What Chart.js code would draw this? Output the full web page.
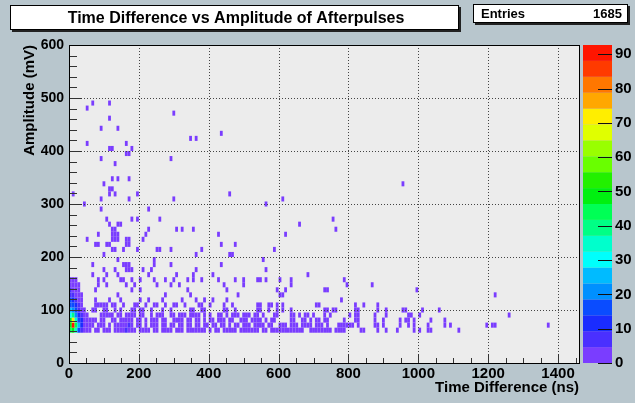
<!DOCTYPE html>
<html>
<head>
<meta charset="utf-8">
<script src="https://cdn.jsdelivr.net/npm/chart.js@4.4.0/dist/chart.umd.min.js"></script>
<style>
  html, body { margin: 0; padding: 0; background: #b8c6cd; }
  #wrap { position: relative; width: 635px; height: 403px; }
</style>
</head>
<body>
<div id="wrap"><canvas id="afterpulses" width="635" height="403"></canvas></div>
<script>
// axis setup
const xTicks = [0, 200, 400, 600, 800, 1000, 1200, 1400];
const yTicks = [0, 100, 200, 300, 400, 500, 600];
const zTicks = [0, 10, 20, 30, 40, 50, 60, 70, 80, 90];
const xMax = 1460, yMax = 600, zMax = 92.7;
const binT = 8;          // ns per bin
const binA = 600 / 63;   // mV per bin
const entries = 1685;

// busy cells near t = 0 (counts), one array per amplitude row
const hotT = [4, 12, 20, 28, 36];
const hotAmps = [62, 71, 81, 90, 100, 110, 119, 129, 138, 148, 157];
const hot62 = [42, 50, 34, 18, 9];
const hot71 = [50, 90, 46, 26, 12];
const hot81 = [48, 70, 36, 16, 10];
const hot90 = [28, 38, 22, 12, 5];
const hot100 = [26, 20, 14, 8, 3];
const hot110 = [18, 16, 10, 5, 2];
const hot119 = [14, 12, 7, 3, 1];
const hot129 = [8, 7, 4, 2, 1];
const hot138 = [5, 4, 3, 1];
const hot148 = [3, 3, 2, 1];
const hot157 = [2, 1, 1];

// a couple of bluish cells in the band
const warmT = [164, 172];
const warmA = [62, 71];
const warmN = [7, 9];

// single hits: time (ns) of each filled cell, per amplitude row (mV)
const t62 = [44,52,60,76,84,100,108,116,132,140,148,156,172,180,188,204,212,220,228,244,252,268,276,284,292,308,316,324,340,348,356,364,372,380,388,404,420,428,444,452,460,468,476,492,500,508,516,524,532,540,556,564,580,588,596,604,612,620,628,636,644,652,660,668,692,700,708,716,724,732,740,748,764,772,780,788,836,844,884,908,940,988,1004,1028,1036,1116];
const t71 = [44,52,60,68,84,92,100,116,132,140,148,156,164,180,196,204,220,236,244,252,268,276,292,300,316,324,340,348,364,372,388,396,412,420,436,444,460,476,484,500,508,516,532,540,548,556,572,580,604,612,620,636,644,652,668,676,684,692,708,716,724,740,772,780,788,796,804,812,828,876,884,900,948,972,988,1028,1076,1092,1196,1212,1220,1372];
const t81 = [44,52,60,68,76,92,100,124,132,148,156,164,172,180,196,204,220,236,244,252,268,276,300,308,316,324,340,348,364,372,388,404,412,428,436,444,460,468,492,500,508,524,532,540,548,564,580,588,636,644,668,676,692,708,716,732,740,788,820,828,876,900,948,964,972,988,1036,1076];
const t90 = [44,52,92,100,108,116,124,140,148,164,172,180,188,204,212,236,252,260,268,292,300,316,324,332,348,356,364,372,388,404,428,436,452,468,476,484,500,508,516,532,540,556,588,596,636,644,660,676,684,700,732,748,804,820,828,876,908,972,980,1004,1260];
const t100 = [44,68,76,100,108,132,148,180,188,204,212,236,268,292,348,356,380,388,444,452,476,540,548,572,596,612,636,732,740,756,764,820,828,884,908,956,964,1012,1060];
const t110 = [76,84,92,100,108,124,132,156,188,196,220,244,252,276,300,308,332,372,380,404,444,468,540,548,572,580,596,612,708,716,820,844,884];
const t119 = [76,116,148,204,228,268,324,364,388,412,452,780];
const t129 = [140,276,348,484,604,612,1220];
const t138 = [76,180,204,340,452,596,620,732,740,996];
const t148 = [84,108,164,188,252,292,316,444,500,636,796,868];
const t157 = [84,100,148,156,180,204,244,276,300,340,356,380,428,476,500,540,548,564,604,636,788];
const t167 = [68,108,140,228,308,356,412,684];
const t176 = [100,132,164,172,180,212,236,364,564];
const t186 = [68,156,164,172,244,292,436];
const t195 = [140,244,556];
const t205 = [100,364,460,468];
const t214 = [124,132,156,196,252,260,292,380,588];
const t224 = [76,84,108,116,164,172,436,476];
const t233 = [52,124,132,140,164,172,212];
const t243 = [84,124,132,140,220,428,620];
const t252 = [124,132,228,308,324,356,764];
const t262 = [116,140,148,660];
const t271 = [108,180,196,260,756];
const t290 = [92,228];
const t300 = [44,564];
const t310 = [92,172,300,612];
const t319 = [12,116,132,196,460];
const t329 = [116,124];
const t338 = [100,956];
const t348 = [124,140,172];
const t376 = [132];
const t386 = [92,292];
const t395 = [164,172];
const t405 = [116,124,180];
const t414 = [52,164];
const t424 = [348,364];
const t433 = [436];
const t443 = [92,140];
const t462 = [116];
const t471 = [300];
const t481 = [52];
const t490 = [68,116];

const rowAmps = [62,71,81,90,100,110,119,129,138,148,157,167,176,186,195,205,214,224,233,243,252,262,271,290,300,310,319,329,338,348,376,386,395,405,414,424,433,443,462,471,481,490];
const rowTimes = [t62,t71,t81,t90,t100,t110,t119,t129,t138,t148,t157,t167,t176,t186,t195,t205,t214,t224,t233,t243,t252,t262,t271,t290,t300,t310,t319,t329,t338,t348,t376,t386,t395,t405,t414,t424,t433,t443,t462,t471,t481,t490];
const hotRows = [hot62,hot71,hot81,hot90,hot100,hot110,hot119,hot129,hot138,hot148,hot157];

// ROOT "pretty" palette, 20 levels, bottom to top
const palette = ['#7a3dff','#4a30ff','#1a2cff','#0a4cff','#0090ff','#00bbff','#00fffc','#00ffcc','#00ff85','#00ff55',
                 '#00f010','#22f000','#69ff00','#99ff00','#e0ff00','#ffee00','#ffa700','#ff7700','#ff3a00','#ff1500'];

const FONT = "'Liberation Sans', Arial, sans-serif";

// build the cell list
const cells = [];
rowAmps.forEach((amp, i) => rowTimes[i].forEach(t => cells.push({ x: t, y: amp, n: 1 })));
hotAmps.forEach((amp, i) => hotRows[i].forEach((n, j) => cells.push({ x: hotT[j], y: amp, n: n })));
warmT.forEach((t, i) => cells.push({ x: t, y: warmA[i], n: warmN[i] }));

function levelColor(n) {
  const j = Math.min(19, Math.floor(n / (zMax / 20)));
  return palette[j];
}

const histPlugin = {
  id: 'hist2d',
  beforeDatasetsDraw(chart) {
    const { ctx, chartArea: a, scales: { x, y } } = chart;
    ctx.save();
    ctx.fillStyle = '#ececec';
    ctx.fillRect(a.left, a.top, a.right - a.left, a.bottom - a.top);
    chart.data.datasets[0].data.forEach(c => {
      const t0 = Math.floor(c.x / binT) * binT;
      const a0 = Math.floor(c.y / binA) * binA;
      const x0 = x.getPixelForValue(t0), x1 = x.getPixelForValue(Math.min(xMax, t0 + binT));
      const y0 = y.getPixelForValue(a0 + binA), y1 = y.getPixelForValue(a0);
      ctx.fillStyle = levelColor(c.n);
      ctx.fillRect(x0, y0, x1 - x0, y1 - y0);
    });
    ctx.restore();
  },
  afterDatasetsDraw(chart) {
    const { ctx, chartArea: a, scales: { x, y, z } } = chart;
    ctx.save();
    // dotted grid
    ctx.strokeStyle = '#444';
    ctx.lineWidth = 1;
    ctx.setLineDash([1, 2]);
    xTicks.slice(1).forEach(v => {
      const px = Math.round(x.getPixelForValue(v)) + 0.5;
      ctx.beginPath(); ctx.moveTo(px, a.top); ctx.lineTo(px, a.bottom); ctx.stroke();
    });
    yTicks.slice(1, -1).forEach(v => {
      const py = Math.round(y.getPixelForValue(v)) + 0.5;
      ctx.beginPath(); ctx.moveTo(a.left, py); ctx.lineTo(a.right, py); ctx.stroke();
    });
    ctx.setLineDash([]);
    // ticks
    ctx.strokeStyle = '#333';
    for (let v = 0; v <= xMax; v += 50) {
      const px = Math.round(x.getPixelForValue(v)) + 0.5;
      const len = v % 200 === 0 ? 9 : 5;
      ctx.beginPath(); ctx.moveTo(px, a.bottom); ctx.lineTo(px, a.bottom - len); ctx.stroke();
    }
    for (let v = 0; v <= yMax; v += 20) {
      const py = Math.round(y.getPixelForValue(v)) + 0.5;
      const len = v % 100 === 0 ? 13 : 8;
      ctx.beginPath(); ctx.moveTo(a.left, py); ctx.lineTo(a.left + len, py); ctx.stroke();
    }
    // frame
    ctx.strokeStyle = '#000';
    ctx.strokeRect(Math.round(a.left) + 0.5, Math.round(a.top) + 0.5,
                   Math.round(a.right - a.left), Math.round(a.bottom - a.top));
    // colour bar
    const bx0 = 583, bx1 = 612;
    for (let j = 0; j < 20; j++) {
      const yb = z.getPixelForValue(j * zMax / 20), yt = z.getPixelForValue((j + 1) * zMax / 20);
      ctx.fillStyle = palette[j];
      ctx.fillRect(bx0, yt, bx1 - bx0, yb - yt);
    }
    ctx.strokeStyle = '#111';
    zTicks.forEach(v => {
      const py = Math.round(z.getPixelForValue(v)) + 0.5;
      ctx.beginPath(); ctx.moveTo(bx1 - 14, py); ctx.lineTo(bx1, py); ctx.stroke();
    });
    ctx.restore();
  },
  afterDraw(chart) {
    const { ctx } = chart;
    ctx.save();
    // title pave
    ctx.fillStyle = '#222';
    ctx.fillRect(12, 7, 449, 25);
    ctx.fillStyle = '#fff';
    ctx.fillRect(10, 5, 449, 25);
    ctx.strokeStyle = '#000';
    ctx.strokeRect(10.5, 5.5, 448, 24);
    ctx.fillStyle = '#000';
    ctx.font = 'bold 16px ' + FONT;
    ctx.textAlign = 'center';
    ctx.textBaseline = 'middle';
    ctx.fillText('Time Difference vs Amplitude of Afterpulses', 236, 18.5);
    // stats pave
    ctx.fillStyle = '#222';
    ctx.fillRect(475, 6, 155, 19);
    ctx.fillStyle = '#fff';
    ctx.fillRect(473, 4, 155, 19);
    ctx.strokeStyle = '#000';
    ctx.strokeRect(473.5, 4.5, 154, 18);
    ctx.fillStyle = '#000';
    ctx.font = 'bold 13px ' + FONT;
    ctx.textAlign = 'left';
    ctx.fillText('Entries', 481, 14);
    ctx.textAlign = 'right';
    ctx.fillText(String(entries), 622, 14);
    ctx.restore();
  }
};

const tickFont = { family: FONT, size: 15, weight: 'bold' };
const plain = v => String(v);

new Chart(document.getElementById('afterpulses'), {
  type: 'scatter',
  data: {
    datasets: [{ data: cells, pointRadius: 0, pointHoverRadius: 0 }]
  },
  options: {
    responsive: false,
    animation: false,
    devicePixelRatio: 1,
    layout: { padding: { top: 45, left: 0, right: 0, bottom: 0 } },
    plugins: { legend: { display: false }, tooltip: { enabled: false } },
    scales: {
      x: {
        type: 'linear', min: 0, max: xMax,
        afterBuildTicks: s => { s.ticks = xTicks.map(v => ({ value: v })); },
        afterFit: s => { s.height = 40; },
        grid: { display: false, drawTicks: false },
        border: { display: false },
        ticks: { color: '#000', font: tickFont, padding: 2, maxRotation: 0, autoSkip: false, callback: plain },
        title: { display: true, text: 'Time Difference (ns)', align: 'end', color: '#000',
                 font: { family: FONT, size: 15, weight: 'bold' }, padding: { top: 0, bottom: 6 } }
      },
      y: {
        type: 'linear', min: 0, max: yMax,
        afterBuildTicks: s => { s.ticks = yTicks.map(v => ({ value: v })); },
        afterFit: s => { s.width = 69; },
        grid: { display: false, drawTicks: false },
        border: { display: false },
        ticks: { color: '#000', font: { family: FONT, size: 14, weight: 'bold' }, padding: 5, callback: plain },
        title: { display: true, text: 'Amplitude (mV)', align: 'end', color: '#000',
                 font: { family: FONT, size: 15, weight: 'bold' }, padding: { top: 21, bottom: 0 } }
      },
      z: {
        type: 'linear', position: 'right', min: 0, max: zMax,
        afterBuildTicks: s => { s.ticks = zTicks.map(v => ({ value: v })); },
        afterFit: s => { s.width = 56; },
        grid: { display: false, drawTicks: true, tickLength: 33 },
        border: { display: false },
        ticks: { color: '#000', font: tickFont, padding: 3, callback: plain }
      }
    }
  },
  plugins: [histPlugin]
});
</script>
</body>
</html>
